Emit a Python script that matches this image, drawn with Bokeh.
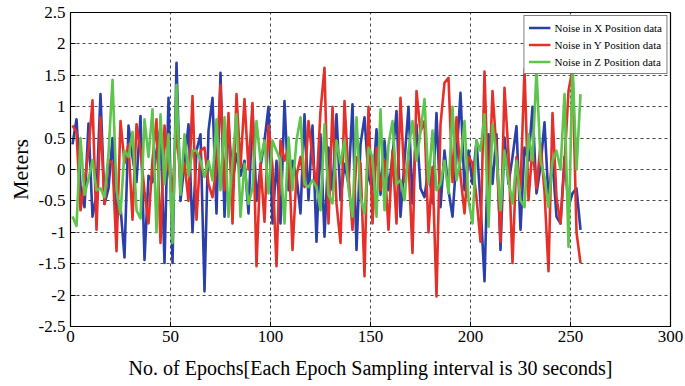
from bokeh.plotting import figure
from bokeh.models import FixedTicker, Range1d
from bokeh.embed import file_html
from bokeh.resources import INLINE

# Epoch numbers (sampled every 2 epochs)
epochs = list(range(1, 256, 2))

noise_x = [0.4, 0.8, -0.25, -0.6, 0.73, -0.75, -0.4, 1.2, -0.55, -0.3, 0.5, -0.8, -0.6, -1.4, 0.7, 0.2,
           -0.2, 0.85, -1.44, -0.1, -0.2, 0.3, 0.67, -1.49, 1.14, -1.49, 1.7, -0.5, 0.1, 0.72, -1.0, 0.3,
           0.56, -1.94, 0.62, 1.14, -0.7, 1.54, -0.75, 0.75, -0.2, 0.25, -0.1, 0.14, -0.7, 0.96, -0.5, 0.04,
           0.46, 1.0, -0.86, 0.14, -0.86, 1.09, -0.33, 0.14, -0.1, -0.7, 0.88, -0.49, 0.7, -1.15, 0.56, -1.07,
           0.35, -0.33, 0.88, -0.49, 0.09, -0.23, 1.04, -1.28, 0.4, 0.83, -0.12, -0.33, 0.64, -0.4, 0.46, -0.33,
           0.2, 0.93, -0.75, 0.14, 1.0, -0.54, 0.72, -0.3, -0.44, 0.04, -0.54, 0.9, -0.6, 0.3, -0.33, -0.75,
           0.2, 1.22, -0.33, 0.3, -0.23, 0.46, -0.54, -1.78, 0.56, -0.23, 0.56, -1.28, 0.51, -0.23, 0.2, 0.69,
           -0.96, 0.35, 0.14, 1.0, -0.38, 0.04, 0.75, -0.46, 0.14, -0.75, -0.86, 0.2, -0.59, -0.38, -0.3, -0.96]

noise_y = [0.7, 0.6, -0.65, -0.2, 0.3, 1.1, -0.96, 0.83, -0.55, 0.15, 0.1, -1.3, 0.77, 0.1, 0.4, -0.8,
           0.72, 0.3, -0.35, -0.86, 0.15, 0.8, -1.17, 0.7, 0.0, -0.35, 0.67, -0.2, 0.1, -0.5, 1.17, -0.8,
           0.3, 0.35, -0.23, -0.44, 0.04, 1.35, -0.33, 0.9, -0.86, 1.2, 0.04, 1.12, 0.0, 1.06, -1.54, 0.1,
           -0.83, 0.7, 0.04, -1.54, 0.46, 0.14, 0.35, -1.28, -0.1, 0.2, -0.28, 0.77, 0.2, -0.3, 0.93, 1.62,
           -0.86, 1.0, -0.54, -1.17, 1.09, -0.1, -0.96, 0.2, 0.1, -1.7, 1.0, -0.86, 0.35, -0.33, 0.14, -0.96,
           0.3, -0.86, 1.14, -0.2, 0.14, -1.33, 1.25, 0.6, 0.77, -1.0, 0.04, -2.02, 0.72, 1.38, 1.46, -0.2,
           0.83, -0.1, -0.7, 0.2, 0.1, -0.45, -1.15, 1.56, -0.54, 1.25, 0.3, -1.15, 1.3, 0.25, -1.49, 0.2,
           -0.3, 1.6, -0.49, 0.35, -0.3, 0.4, -0.35, -1.62, 0.9, -0.45, -0.86, 0.1, 1.25, 1.6, -1.0, -1.49]

noise_z = [-0.75, -0.9, 0.5, -0.4, -0.15, 0.15, -0.33, -0.3, -0.44, 0.25, 1.43, -0.33, -0.7, 0.3, 0.2, 0.6,
           -0.65, -0.78, 0.8, 0.2, 0.96, -1.0, 0.88, -0.23, 0.56, -1.17, 1.35, -0.4, 0.56, -0.1, 0.3, 0.3,
           0.14, -0.12, 0.14, -0.17, 0.8, -0.33, 0.83, -0.75, 0.14, 0.88, -0.75, 0.09, -0.55, -0.3, 0.77, 0.14,
           0.46, -0.38, 0.46, 0.3, 0.14, -0.86, 0.51, -0.33, 0.46, 0.83, -0.23, -0.28, -0.17, -0.28, -0.65, 0.72,
           -0.4, -0.54, 0.46, 0.09, 0.46, -0.3, -0.75, 0.83, -0.44, -0.7, 0.35, 0.2, -0.75, 0.96, -0.65, 0.4,
           0.77, -0.23, -0.17, -0.49, 0.3, 0.77, 0.14, 0.6, 1.12, -0.23, 0.62, -0.33, -0.23, 0.14, -0.38, 1.0,
           -0.17, 0.14, 0.77, -0.49, -0.86, 0.46, 0.3, 0.88, -0.91, 0.72, 0.2, -0.65, 0.3, -0.17, -0.54, 0.14,
           -0.49, -0.6, 0.56, 0.14, 1.6, 0.14, -0.12, -0.6, 0.14, 0.3, 0.0, 1.2, -1.23, 1.7, 0.0, 1.2]

series_names = ["Noise in X Position data", "Noise in Y Position data", "Noise in Z Position data"]
series_colors = ["#2B3FA8", "#E5302A", "#5EC44B"]

x_ticks = [0, 50, 100, 150, 200, 250, 300]
y_ticks = [-2.5, -2, -1.5, -1, -0.5, 0, 0.5, 1, 1.5, 2, 2.5]
y_tick_labels = ["-2.5", "-2", "-1.5", "-1", "-0.5", "0", "0.5", "1", "1.5", "2", "2.5"]

FONT = "Liberation Serif"

p = figure(width=685, height=386, output_backend="svg", toolbar_location=None,
           x_range=Range1d(0, 300), y_range=Range1d(-2.5, 2.5),
           min_border_left=70, min_border_right=15, min_border_top=12, min_border_bottom=60,
           background_fill_color="white", border_fill_color="white")

p.outline_line_color = "black"
p.outline_line_width = 1.2
p.outline_line_alpha = 1

for ax in (p.xaxis[0], p.yaxis[0]):
    ax.major_tick_in = 5
    ax.major_tick_out = 0
    ax.minor_tick_line_color = None
    ax.axis_line_color = "black"
    ax.major_label_text_font = FONT
    ax.major_label_text_font_size = "17px"
    ax.major_label_text_color = "black"
    ax.axis_label_text_font = FONT
    ax.axis_label_text_font_style = "normal"
    ax.axis_label_text_color = "black"

p.xaxis.axis_label_text_font_size = "20px"
p.yaxis.axis_label_text_font_size = "22px"
p.xaxis.ticker = FixedTicker(ticks=x_ticks)
p.yaxis.ticker = FixedTicker(ticks=y_ticks)
p.yaxis.major_label_overrides = {float(t): s for t, s in zip(y_ticks, y_tick_labels)}
p.xaxis.axis_label = "No. of Epochs[Each Epoch Sampling interval is 30 seconds]"
p.yaxis.axis_label = "Meters"
p.xaxis.major_label_standoff = 4
p.yaxis.major_label_standoff = 5
p.xaxis.axis_label_standoff = 12
p.yaxis.axis_label_standoff = 3

p.xgrid.ticker = FixedTicker(ticks=x_ticks)
p.ygrid.ticker = FixedTicker(ticks=y_ticks)
for g in (p.xgrid[0], p.ygrid[0]):
    g.grid_line_color = "black"
    g.grid_line_dash = "3 3"
    g.grid_line_width = 0.8
    g.grid_line_alpha = 0.9

for vals, name, col in zip([noise_x, noise_y, noise_z], series_names, series_colors):
    p.line(epochs, vals, line_color=col, line_width=2.6, legend_label=name, line_join="round")

p.legend.location = "top_right"
p.legend.border_line_color = "black"
p.legend.border_line_width = 1
p.legend.background_fill_color = "white"
p.legend.background_fill_alpha = 1
p.legend.label_text_font = FONT
p.legend.label_text_font_size = "11px"
p.legend.label_text_color = "black"
p.legend.glyph_width = 22
p.legend.glyph_height = 15
p.legend.label_height = 15
p.legend.spacing = 2
p.legend.padding = 4
p.legend.margin = 3
p.legend.label_standoff = 4

open("out.html", "w").write(file_html(p, INLINE))
